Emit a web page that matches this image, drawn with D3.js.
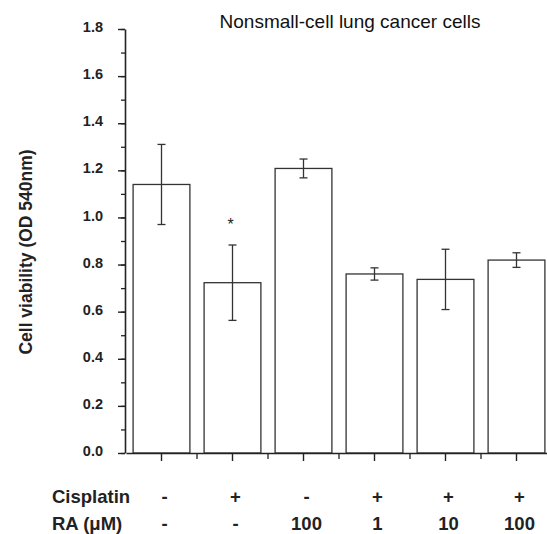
<!DOCTYPE html>
<html>
<head>
<meta charset="utf-8">
<script src="https://cdn.jsdelivr.net/npm/d3@7"></script>
<style>
  body { margin: 0; background: #fff; }
  svg { display: block; font-family: "Liberation Sans", Arial, sans-serif; }
</style>
</head>
<body>
<svg id="chart" width="547" height="534"></svg>
<script>
// data
const groups = ["g1", "g2", "g3", "g4", "g5", "g6"];
const means = [1.14, 0.723, 1.208, 0.76, 0.737, 0.819];
const errors = [0.17, 0.16, 0.04, 0.026, 0.128, 0.031];
const cisplatin = ["-", "+", "-", "+", "+", "+"];
const raDose = ["-", "-", "100", "1", "10", "100"];
const significant = [false, true, false, false, false, false];
const yTicks = [0, 0.2, 0.4, 0.6, 0.8, 1.0, 1.2, 1.4, 1.6, 1.8];
const yMinorTicks = d3.range(0, 1.81, 0.1);

const svg = d3.select("#chart");

const x = d3.scaleBand()
    .domain(groups)
    .range([126, 552])
    .paddingInner(0.2)
    .paddingOuter(0.1);

const y = d3.scaleLinear()
    .domain([0, 1.8])
    .range([453, 29]);

// title
svg.append("text")
    .attr("x", 350)
    .attr("y", 28)
    .attr("text-anchor", "middle")
    .attr("font-size", "19px")
    .attr("fill", "#111")
    .text("Nonsmall-cell lung cancer cells");

// bars
svg.selectAll("rect.bar")
    .data(groups)
    .join("rect")
    .attr("class", "bar")
    .attr("x", d => x(d))
    .attr("y", (d, i) => y(means[i]))
    .attr("width", x.bandwidth())
    .attr("height", (d, i) => y(0) - y(means[i]))
    .attr("fill", "#fff")
    .attr("stroke", "#333")
    .attr("stroke-width", 1.3);

// error bars
const eb = svg.append("g").attr("stroke", "#333").attr("stroke-width", 1.3);
groups.forEach((g, i) => {
    const cx = x(g) + x.bandwidth() / 2;
    const top = y(means[i] + errors[i]);
    const bot = y(means[i] - errors[i]);
    eb.append("line").attr("x1", cx).attr("x2", cx).attr("y1", top).attr("y2", bot);
    eb.append("line").attr("x1", cx - 4).attr("x2", cx + 4).attr("y1", top).attr("y2", top);
    eb.append("line").attr("x1", cx - 4).attr("x2", cx + 4).attr("y1", bot).attr("y2", bot);
    if (significant[i]) {
        svg.append("text")
            .attr("x", cx - 2)
            .attr("y", top - 15)
            .attr("text-anchor", "middle")
            .attr("font-size", "16px")
            .attr("fill", "#222")
            .text("*");
    }
});

// y axis, minor ticks first
svg.append("g")
    .attr("transform", "translate(125,0)")
    .call(d3.axisLeft(y).tickValues(yMinorTicks).tickSize(4).tickFormat(""))
    .call(g => g.select(".domain").remove())
    .selectAll("line").attr("stroke", "#222").attr("stroke-width", 1.3);

const yAxis = svg.append("g")
    .attr("transform", "translate(125,0)")
    .call(d3.axisLeft(y).tickValues(yTicks).tickSize(7).tickSizeOuter(0).tickPadding(15).tickFormat(d3.format(".1f")));
yAxis.select(".domain").attr("stroke", "#222").attr("stroke-width", 1.6);
yAxis.selectAll("line").attr("stroke", "#222").attr("stroke-width", 1.4);
yAxis.selectAll("text")
    .attr("font-family", "Liberation Sans, Arial, sans-serif")
    .attr("font-size", "14.5px")
    .attr("font-weight", "bold")
    .attr("fill", "#222")
    .attr("y", -2);

// x axis: major ticks at bar centres, minor ticks between bars
const xAxis = svg.append("g")
    .attr("transform", "translate(0,453)")
    .call(d3.axisBottom(x).tickSize(8).tickSizeOuter(0).tickFormat(""));
xAxis.select(".domain").attr("stroke", "#222").attr("stroke-width", 1.6);
xAxis.selectAll("line").attr("stroke", "#222").attr("stroke-width", 1.4);

const step = x.step();
svg.append("g")
    .selectAll("line")
    .data(groups.slice(1))
    .join("line")
    .attr("x1", d => x(d) - step * 0.1)
    .attr("x2", d => x(d) - step * 0.1)
    .attr("y1", 453)
    .attr("y2", 459)
    .attr("stroke", "#222")
    .attr("stroke-width", 1.3);

// y axis title
svg.append("text")
    .attr("transform", "translate(32,252) rotate(-90)")
    .attr("text-anchor", "middle")
    .attr("font-size", "17.5px")
    .attr("font-weight", "bold")
    .attr("fill", "#222")
    .text("Cell viability (OD 540nm)");

// treatment table under the axis
const rows = [
    { label: "Cisplatin", values: cisplatin, yPos: 503 },
    { label: "RA (\u03bcM)", values: raDose, yPos: 530 }
];
rows.forEach(r => {
    svg.append("text")
        .attr("x", 52)
        .attr("y", r.yPos)
        .attr("font-size", "18.5px")
        .attr("font-weight", "bold")
        .attr("fill", "#222")
        .text(r.label);
    svg.append("g")
        .selectAll("text")
        .data(groups)
        .join("text")
        .attr("x", d => x(d) + x.bandwidth() / 2 + 3)
        .attr("y", r.yPos)
        .attr("text-anchor", "middle")
        .attr("font-size", "18.5px")
        .attr("font-weight", "bold")
        .attr("fill", "#222")
        .text((d, i) => r.values[i]);
});
</script>
</body>
</html>
